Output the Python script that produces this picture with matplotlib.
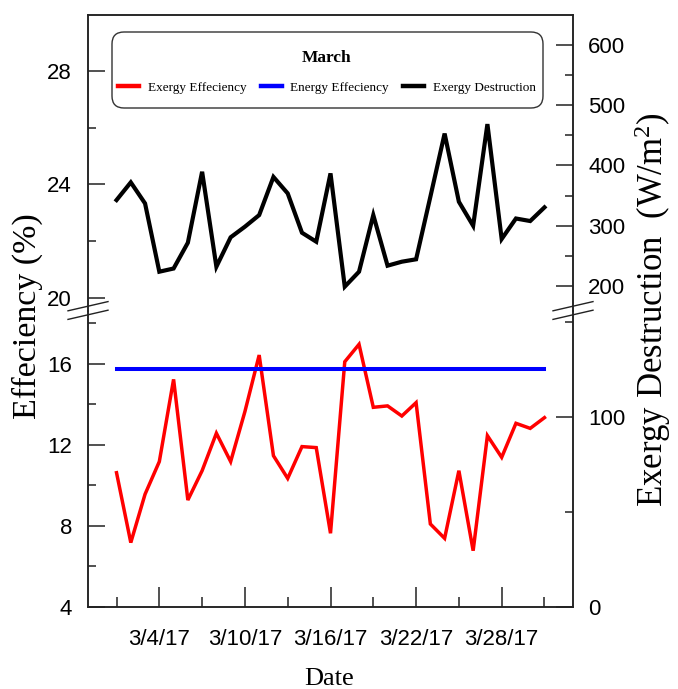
import matplotlib
matplotlib.use('Agg')
import matplotlib.pyplot as plt
from matplotlib.lines import Line2D
from matplotlib.patches import FancyBboxPatch
from matplotlib.transforms import IdentityTransform

# ---------------- data ----------------
days = list(range(1, 32))
exergy_eff = [10.63, 7.18, 9.57, 11.18, 15.24, 9.28, 10.73, 12.58, 11.18, 13.65,
              16.44, 11.47, 10.35, 11.92, 11.87, 7.64, 16.11, 16.97, 13.86, 13.93,
              13.43, 14.09, 8.10, 7.39, 10.73, 6.78, 12.46, 11.39, 13.07, 12.82, 13.35]
energy_eff = [15.74, 15.74, 15.74, 15.74, 15.74, 15.74, 15.74, 15.74, 15.74, 15.74,
              15.74, 15.74, 15.74, 15.74, 15.74, 15.74, 15.74, 15.74, 15.74, 15.74,
              15.74, 15.74, 15.74, 15.74, 15.74, 15.74, 15.74, 15.74, 15.74, 15.74, 15.74]
exergy_dest = [342.6, 372.0, 337.0, 223.7, 229.0, 271.8, 389.6, 232.0, 280.8, 298.4,
               317.7, 381.0, 353.7, 288.4, 273.5, 386.9, 198.9, 223.7, 317.7, 233.7,
               240.3, 244.3, 348.0, 453.0, 339.8, 300.0, 468.7, 278.0, 312.0, 307.8, 330.5]
major_days = [4, 10, 16, 22, 28]
date_labels = ['3/4/17', '3/10/17', '3/16/17', '3/22/17', '3/28/17']
minor_days = [1, 7, 13, 19, 25, 31]
series_labels = ['Exergy Effeciency', 'Energy Effeciency', 'Exergy Destruction']
legend_title = 'March'

# ---------------- layout ----------------
W, H = 678, 689
plt.rcParams['mathtext.fontset'] = 'custom'
plt.rcParams['mathtext.rm'] = 'Liberation Serif'
plt.rcParams['mathtext.it'] = 'Liberation Serif:italic'
fig = plt.figure(figsize=(W / 100, H / 100), dpi=100)

def fx(px):
    return px / W

def fy(py):
    return 1 - py / H

L, R, T, MID, B = 88, 573, 15, 310.5, 607
ax_top = fig.add_axes([fx(L), fy(MID), fx(R) - fx(L), fy(T) - fy(MID)])
ax_bot = fig.add_axes([fx(L), fy(B), fx(R) - fx(L), fy(MID) - fy(B)])
ax_top_r = ax_top.twinx()
ax_bot_r = ax_bot.twinx()

SP = '#222222'
TICKFONT = 'Liberation Sans'
SERIF = 'Liberation Serif'

for a in (ax_top, ax_bot, ax_top_r, ax_bot_r):
    a.set_xlim(-1, 33)
    for s in a.spines.values():
        s.set_color(SP)
        s.set_linewidth(1.1)
    a.patch.set_visible(False)

for a in (ax_top, ax_top_r):
    a.spines['bottom'].set_visible(False)
for a in (ax_bot, ax_bot_r):
    a.spines['top'].set_visible(False)

ax_top.set_xticks([])
ax_top.set_ylim(19.56, 29.97)
ax_bot.set_ylim(4, 18.64)
ax_top_r.set_ylim(159.3, 649.8)
ax_bot_r.set_ylim(0, 156.3)

ax_top.set_yticks([20, 24, 28])
ax_top.set_yticks([22, 26], minor=True)
ax_bot.set_yticks([4, 8, 12, 16])
ax_bot.set_yticks([6, 10, 14, 18], minor=True)
ax_top_r.set_yticks([200, 300, 400, 500, 600])
ax_top_r.set_yticks([250, 350, 450, 550], minor=True)
ax_bot_r.set_yticks([0, 100])
ax_bot_r.set_yticks([50, 150], minor=True)

ax_bot.set_xticks(major_days)
ax_bot.set_xticklabels(date_labels)
ax_bot.set_xticks(minor_days, minor=True)

for a, pad in ((ax_top, 11.5), (ax_bot, 11.5), (ax_top_r, 11), (ax_bot_r, 11)):
    a.tick_params(axis='y', which='major', direction='in', length=12, width=1.1,
                  color=SP, labelsize=16, pad=pad)
    a.tick_params(axis='y', which='minor', direction='in', length=6, width=1.1, color=SP)
ax_bot.tick_params(axis='x', which='major', direction='in', length=14.4, width=1.1,
                   color=SP, labelsize=16, pad=16)
ax_bot.tick_params(axis='x', which='minor', direction='in', length=7.2, width=1.1, color=SP)

for a in (ax_top, ax_bot, ax_top_r, ax_bot_r):
    for lab in a.get_xticklabels() + a.get_yticklabels():
        lab.set_fontfamily(TICKFONT)

# ---------------- data lines ----------------
l_red, = ax_bot.plot(days, exergy_eff, color='#ff0000', lw=2.5, solid_joinstyle='miter')
l_blue, = ax_bot.plot(days, energy_eff, color='#0000ff', lw=2.9)
l_black, = ax_top_r.plot(days, exergy_dest, color='black', lw=3.0, solid_joinstyle='miter')

# ---------------- axis break marks ----------------
for xc in (L, R):
    for yc in (MID - 4.3, MID + 4.3):
        x0, x1 = xc - 20, xc + 20
        y0, y1 = yc + 4.6, yc - 4.6
        fig.add_artist(Line2D([fx(x0), fx(x1)], [fy(y0), fy(y1)], transform=fig.transFigure,
                              color=SP, lw=1.0, clip_on=False))

# ---------------- labels ----------------
fig.text(fx(27), fy(316), 'Effeciency (%)', rotation=90, ha='center', va='center',
         family=SERIF, fontsize=24.5)
fig.text(fx(653), fy(310), r'Exergy Destruction  (W/m$^2$)', rotation=90, ha='center',
         va='center', family=SERIF, fontsize=25)
fig.text(fx(329), fy(685), 'Date', ha='center', va='baseline', family=SERIF, fontsize=19)

# ---------------- legend ----------------
box = FancyBboxPatch((112, H - 108), 543 - 112, 108 - 32,
                     boxstyle='round,pad=0,rounding_size=12', transform=IdentityTransform(),
                     facecolor='white', edgecolor='#333333', lw=1.0)
fig.add_artist(box)
leg = fig.legend([l_red, l_blue, l_black], series_labels, ncol=3, loc='upper center',
                 bbox_to_anchor=(fx(327), fy(50.5)),
                 borderaxespad=0, borderpad=0, frameon=False, title=legend_title,
                 title_fontproperties={'family': SERIF, 'weight': 'bold', 'size': 12.5},
                 prop={'family': SERIF, 'size': 9.5}, handlelength=1.59,
                 handletextpad=0.68, columnspacing=1.06, labelspacing=1.15)
for h in leg.legend_handles:
    h.set_linewidth(3.2)

fig.savefig('out.png', dpi=100)
